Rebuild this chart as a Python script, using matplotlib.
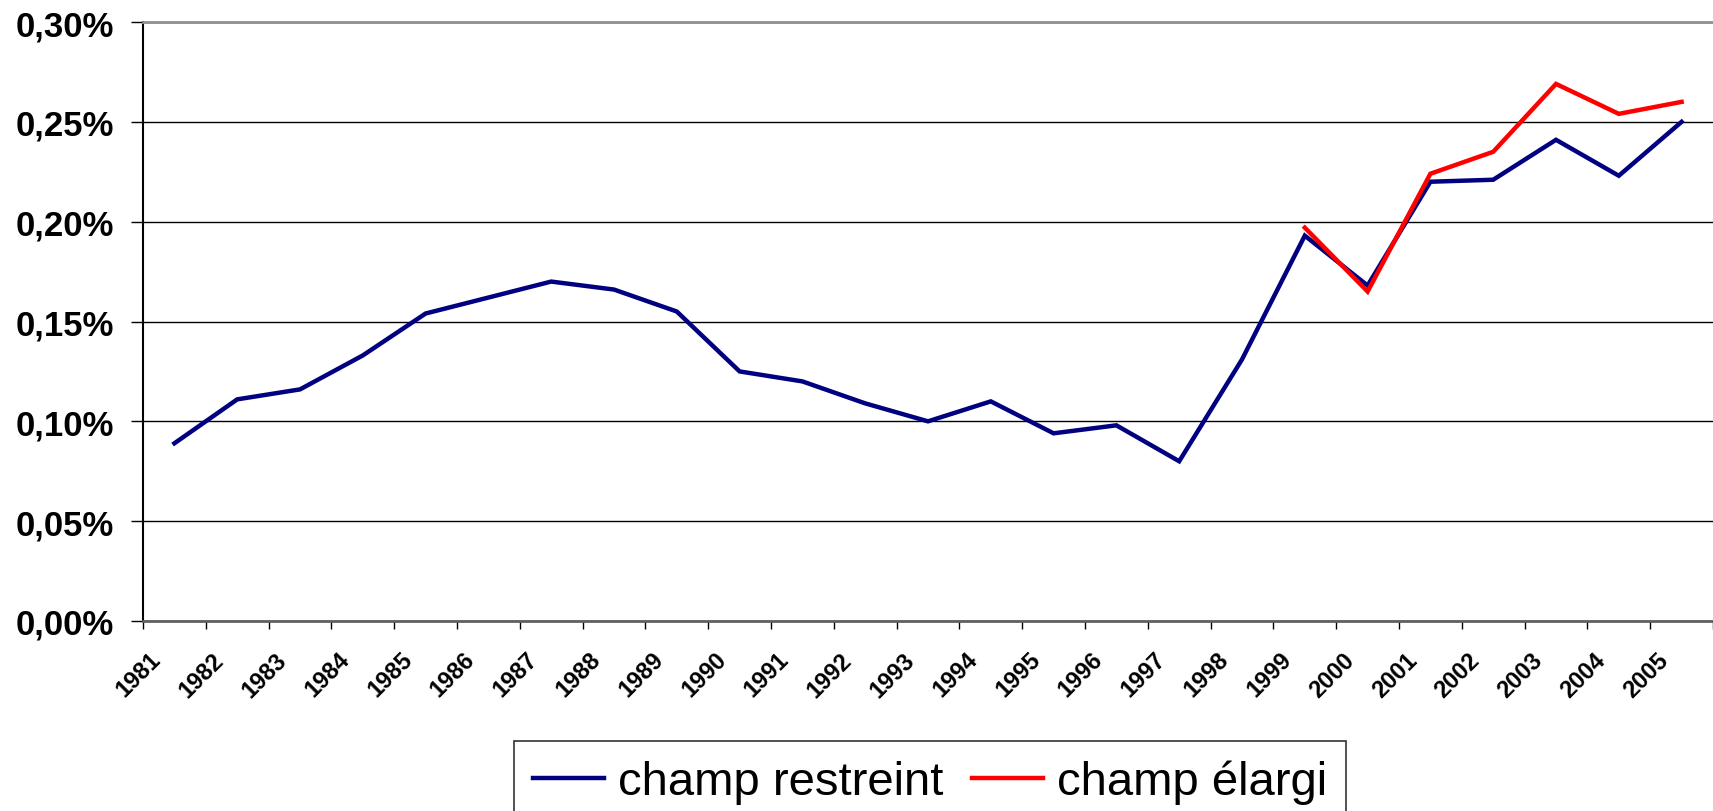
import numpy as np
import matplotlib
matplotlib.use('Agg')
import matplotlib.pyplot as plt
from matplotlib.transforms import ScaledTranslation

plt.rcParams['font.family'] = ['Liberation Sans', 'DejaVu Sans']

# Données (en %)
annees = ['1981', '1982', '1983', '1984', '1985', '1986', '1987', '1988', '1989',
          '1990', '1991', '1992', '1993', '1994', '1995', '1996', '1997', '1998',
          '1999', '2000', '2001', '2002', '2003', '2004', '2005']
restreint = [0.089, 0.111, 0.116, 0.133, 0.154, 0.162, 0.170, 0.166, 0.155,
             0.125, 0.120, 0.109, 0.100, 0.110, 0.094, 0.098, 0.080, 0.131,
             0.193, 0.168, 0.220, 0.221, 0.241, 0.223, 0.250]
annees_elargi = ['1999', '2000', '2001', '2002', '2003', '2004', '2005']
elargi = [0.197, 0.165, 0.224, 0.235, 0.269, 0.254, 0.260]

y_ticks = [0.00, 0.05, 0.10, 0.15, 0.20, 0.25, 0.30]

x = np.arange(len(annees))
x_elargi = [annees.index(a) for a in annees_elargi]

fig = plt.figure(figsize=(17.13, 8.12), dpi=100)
ax = fig.add_axes([143 / 1713, 1 - 622 / 812, 1 - 143 / 1713, 599 / 812])

ax.plot(x, restreint, color='#000080', lw=3.2, label='champ restreint', solid_joinstyle='miter')
ax.plot(x_elargi, elargi, color='#FF0000', lw=3.2, label='champ élargi', solid_joinstyle='miter')

ax.set_xlim(-0.5, len(annees) - 0.5)
ax.set_ylim(0, 0.30)

# axe des y
ax.set_yticks(y_ticks)
ax.set_yticklabels([('%.2f%%' % v).replace('.', ',') for v in y_ticks],
                   fontsize=25, fontweight='bold')
ax.yaxis.grid(True, color='black', lw=1)
ax.set_axisbelow(True)
ax.tick_params(axis='y', length=9, width=1, pad=12, color='black')

# axe des x : graduations entre les catégories, étiquettes au centre
ax.set_xticks(np.arange(len(annees) + 1) - 0.5)
ax.set_xticklabels([])
ax.tick_params(axis='x', which='major', length=6, width=1, color='black')
ax.set_xticks(x, minor=True)
ax.set_xticklabels(annees, minor=True, rotation=45, ha='right', va='center',
                   rotation_mode='anchor', fontsize=17, fontweight='bold')
ax.tick_params(axis='x', which='minor', length=0, pad=25)
decalage = ScaledTranslation(-17 / 100, 0, fig.dpi_scale_trans)
for lab in ax.get_xticklabels(minor=True):
    lab.set_transform(lab.get_transform() + decalage)

ax.spines['right'].set_visible(False)
ax.spines['top'].set_color('#909090')
ax.spines['top'].set_linewidth(2)
ax.spines['bottom'].set_color('#606060')
ax.spines['bottom'].set_linewidth(2)
ax.spines['left'].set_color('black')
ax.spines['left'].set_linewidth(1.5)

leg = fig.legend(loc='upper center', bbox_to_anchor=(930 / 1713, 1 - 742 / 812),
                 ncol=2, fontsize=34, frameon=True, fancybox=False,
                 edgecolor='black', handlelength=1.5, handletextpad=0.3,
                 columnspacing=0.6, borderpad=0.4, borderaxespad=0)
leg.get_frame().set_linewidth(1.2)

plt.savefig('out.png', dpi=100)
